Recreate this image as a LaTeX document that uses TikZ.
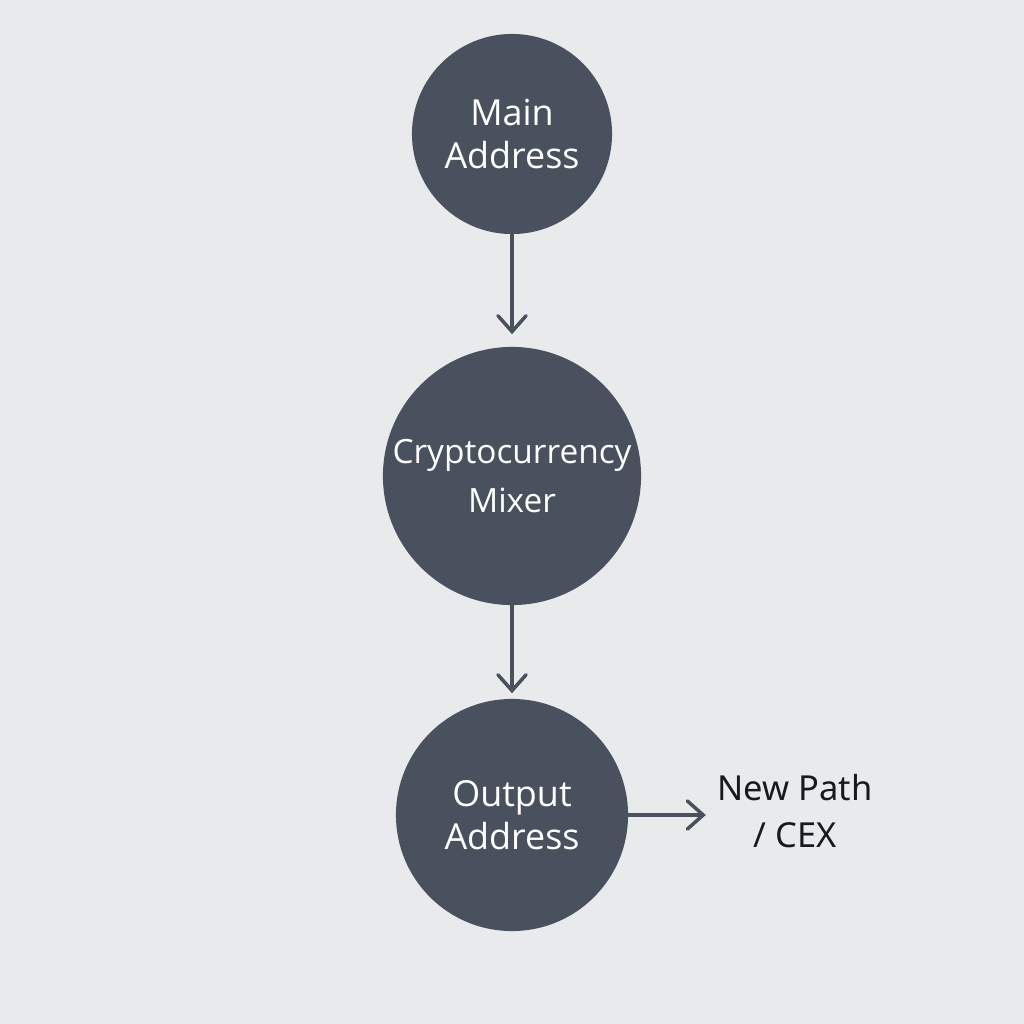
\documentclass[tikz,border=0pt]{standalone}
\usepackage{fontspec}
\setmainfont{Open Sans}
\newfontfamily\labelfont{Noto Sans}
\usetikzlibrary{arrows.meta}
\definecolor{bggray}{RGB}{233,234,236}
\definecolor{nodeslate}{RGB}{72,81,93}
\definecolor{inkdark}{RGB}{22,26,32}

\begin{document}
\begin{tikzpicture}[x=0.01cm,y=-0.01cm,
  addr/.style={circle,fill=nodeslate,text=white,align=center,inner sep=0pt,
    font=\fontsize{10.2}{12.2}\selectfont},
  flow/.style={-{Straight Barb[length=4.5pt,width=8pt,line cap=round]},
    draw=nodeslate,line width=1pt,line cap=round}]
\fill[bggray] (0,0) rectangle (1024,1024);
\useasboundingbox (0,0) rectangle (1024,1024);
\node[addr,minimum size=2cm] (main) at (512,134) {Main\\Address};
\node[addr,minimum size=2.58cm,font=\fontsize{9.5}{14}\selectfont] (mixer) at (512,476) {Cryptocurrency\\Mixer};
\node[addr,minimum size=2.32cm] (output) at (512,815) {Output\\Address};
\node[align=center,inner sep=0pt,text=inkdark,font=\labelfont\fontsize{9.8}{13.6}\selectfont] (newpath) at (795,811) {New Path\\/ CEX};
\draw[flow] (main) -- ([yshift=0.12cm]mixer.north);
\draw[flow] (mixer) -- ([yshift=0.05cm]output.north);
\draw[flow] (output) -- ([xshift=-0.11cm]output -| newpath.west);
\end{tikzpicture}
\end{document}
